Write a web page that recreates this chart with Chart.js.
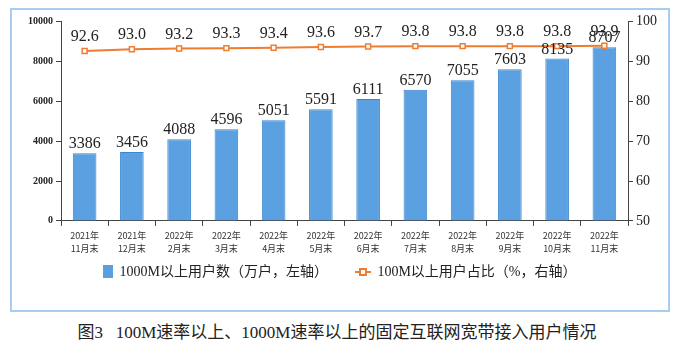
<!DOCTYPE html>
<html>
<head>
<meta charset="utf-8">
<script src="https://cdn.jsdelivr.net/npm/chart.js@4.4.0/dist/chart.umd.min.js"></script>
<style>
body { margin: 0; background: #fff; }
#box { position: absolute; left: 10px; top: 8px; width: 656px; height: 300px; border: 2px solid #a9cdee; }
#box canvas { position: absolute; left: 0; top: 0; }
#legend { position: absolute; left: 0; top: 250px; width: 656px; text-align: center; font-family: "Liberation Serif", "Noto Sans CJK SC", serif; font-size: 14px; color: #222; }
#legend span.item { display: inline-block; margin: 0 12px; vertical-align: middle; }
.sw { display: inline-block; width: 10px; height: 13px; background: #5b9fdf; vertical-align: -2px; margin-right: 6px; }
.mk { display: inline-block; position: relative; width: 16px; height: 13px; vertical-align: -2px; margin-right: 6px; }
.mk i { position: absolute; left: 0; top: 6px; width: 16px; height: 2px; background: #ed7d31; }
.mk b { position: absolute; left: 4px; top: 3px; width: 4px; height: 4px; border: 2px solid #ed7d31; background: #fff; }
#caption { position: absolute; left: 0; top: 318px; width: 674px; text-align: center; font-family: "Liberation Serif", "Noto Sans CJK SC", serif; font-size: 17px; color: #222; }
</style>
</head>
<body>
<div id="box">
  <canvas id="myChart" width="656" height="300"></canvas>
  <div id="legend">
    <span class="item"><span class="sw"></span>1000M以上用户数（万户，左轴）</span>
    <span class="item"><span class="mk"><i></i><b></b></span>100M以上用户占比（%，右轴）</span>
  </div>
</div>
<div id="caption">图3&nbsp;&nbsp;&nbsp;100M速率以上、1000M速率以上的固定互联网宽带接入用户情况</div>
<script>
// 数据
const categories = [
    ['2021年', '11月末'], ['2021年', '12月末'], ['2022年', '2月末'], ['2022年', '3月末'],
    ['2022年', '4月末'], ['2022年', '5月末'], ['2022年', '6月末'], ['2022年', '7月末'],
    ['2022年', '8月末'], ['2022年', '9月末'], ['2022年', '10月末'], ['2022年', '11月末']
];
const users1000M = [3386, 3456, 4088, 4596, 5051, 5591, 6111, 6570, 7055, 7603, 8135, 8707];
const share100M = [92.6, 93.0, 93.2, 93.3, 93.4, 93.6, 93.7, 93.8, 93.8, 93.8, 93.8, 93.9];
const leftTicks = [0, 2000, 4000, 6000, 8000, 10000];
const rightTicks = [50, 60, 70, 80, 90, 100];

// 数值标签
const valueLabels = {
    id: 'valueLabels',
    afterDatasetsDraw(chart) {
        const c = chart.ctx;
        c.save();
        c.fillStyle = '#222';
        c.textAlign = 'center';
        c.textBaseline = 'alphabetic';
        c.font = '16px "Liberation Serif", serif';
        chart.getDatasetMeta(0).data.forEach((bar, i) => {
            c.fillText(String(users1000M[i]), bar.x, bar.y - 5);
        });
        chart.getDatasetMeta(1).data.forEach((pt, i) => {
            c.fillText(share100M[i].toFixed(1), pt.x, pt.y - 10);
        });
        c.restore();
    }
};

const ctx = document.getElementById('myChart').getContext('2d');
const myChart = new Chart(ctx, {
    type: 'bar',
    data: {
        labels: categories,
        datasets: [{
            label: '1000M以上用户数（万户，左轴）',
            data: users1000M,
            yAxisID: 'y',
            backgroundColor: '#5ba0e0',
            borderColor: '#3b87cf',
            borderWidth: 1,
            categoryPercentage: 1.0,
            barPercentage: 0.5,
            order: 2
        }, {
            type: 'line',
            label: '100M以上用户占比（%，右轴）',
            data: share100M,
            yAxisID: 'y1',
            borderColor: '#ed7d31',
            backgroundColor: '#fff',
            borderWidth: 2,
            pointStyle: 'rect',
            pointRadius: 3.5,
            pointBorderWidth: 1.5,
            pointBackgroundColor: '#fff',
            pointBorderColor: '#ed7d31',
            order: 1
        }]
    },
    options: {
        responsive: false,
        animation: false,
        layout: { padding: { top: 9, bottom: 52, left: 0, right: 0 } },
        plugins: {
            legend: { display: false },
            tooltip: { enabled: false }
        },
        scales: {
            x: {
                grid: { display: true, drawOnChartArea: false, offset: true, tickLength: 5, color: '#444' },
                border: { color: '#444', width: 1 },
                ticks: {
                    color: '#333',
                    font: { size: 9, family: '"Noto Sans CJK SC", sans-serif', lineHeight: 1.45 },
                    maxRotation: 0,
                    padding: 3
                }
            },
            y: {
                position: 'left',
                min: 0,
                max: 10000,
                afterBuildTicks: (axis) => { axis.ticks = leftTicks.map(v => ({ value: v })); },
                afterFit: (axis) => { axis.width = 49; },
                grid: { display: true, drawOnChartArea: false, tickLength: 5, color: '#444' },
                border: { color: '#444', width: 1 },
                ticks: {
                    color: '#222',
                    font: { size: 10, weight: 'bold', family: '"Liberation Serif", serif' },
                    padding: 3,
                    callback: (v) => String(v)
                }
            },
            y1: {
                position: 'right',
                min: 50,
                max: 100,
                afterBuildTicks: (axis) => { axis.ticks = rightTicks.map(v => ({ value: v })); },
                afterFit: (axis) => { axis.width = 40; },
                grid: { display: true, drawOnChartArea: false, tickLength: 5, color: '#444' },
                border: { color: '#444', width: 1 },
                ticks: {
                    color: '#222',
                    font: { size: 14, family: '"Liberation Serif", serif' },
                    padding: 3,
                    callback: (v) => String(v)
                }
            }
        }
    },
    plugins: [valueLabels]
});
</script>
</body>
</html>
